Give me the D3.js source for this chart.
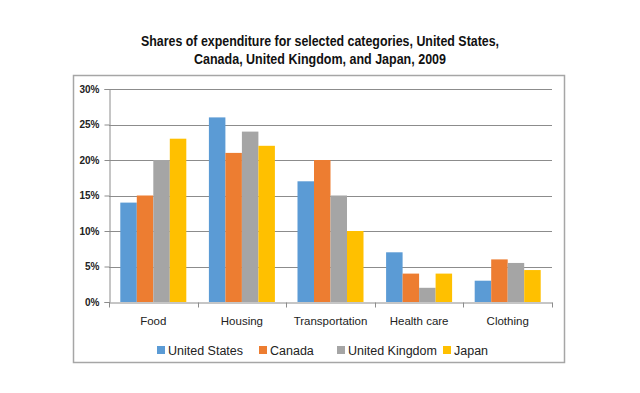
<!DOCTYPE html>
<html><head><meta charset="utf-8">
<script src="https://cdn.jsdelivr.net/npm/d3@7"></script>
<style>body{margin:0;background:#fff}svg{display:block}</style>
</head><body>
<svg id="c" width="640" height="393"></svg>
<script>
const categories = ["Food","Housing","Transportation","Health care","Clothing"];
const seriesNames = ["United States","Canada","United Kingdom","Japan"];
const usValues = [14,26,17,7,3];
const canadaValues = [15,21,20,4,6];
const ukValues = [20,24,15,2,5.5];
const japanValues = [23,22,10,4,4.5];
const yTicks = [0,5,10,15,20,25,30];
const colors = ["#5B9BD5","#ED7D31","#A5A5A5","#FFC000"];
const allSeries = [usValues, canadaValues, ukValues, japanValues];

const svg = d3.select("#c");
const m = {l:109, r:552, t:89, b:302};

svg.append("rect").attr("x",73.5).attr("y",75.5).attr("width",491).attr("height",287)
  .attr("fill","#fff").attr("stroke","#a6a6a6").attr("stroke-width",1.5);

const titleFont = "Liberation Sans, Arial";
svg.append("text").attr("x",320).attr("y",46).attr("text-anchor","middle")
  .attr("font-family",titleFont).attr("font-weight","bold")
  .attr("font-size",15).attr("fill","#111")
  .attr("textLength",358).attr("lengthAdjust","spacingAndGlyphs")
  .text("Shares of expenditure for selected categories, United States,");
svg.append("text").attr("x",320).attr("y",64).attr("text-anchor","middle")
  .attr("font-family",titleFont).attr("font-weight","bold")
  .attr("font-size",15).attr("fill","#111")
  .attr("textLength",252).attr("lengthAdjust","spacingAndGlyphs")
  .text("Canada, United Kingdom, and Japan, 2009");

const x = d3.scaleBand().domain(categories).range([m.l, m.r]).paddingInner(0.255).paddingOuter(0.1275);
const x1 = d3.scaleBand().domain(seriesNames).range([0, x.bandwidth()]);
const y = d3.scaleLinear().domain([0,30]).range([m.b, m.t]);

// gridlines
svg.append("g").selectAll("line").data(yTicks.filter(d=>d>0)).join("line")
  .attr("x1",m.l).attr("x2",m.r).attr("y1",d=>Math.round(y(d))+0.5).attr("y2",d=>Math.round(y(d))+0.5)
  .attr("stroke","#8c8c8c").attr("stroke-width",1);

// bars
seriesNames.forEach((s,i)=>{
  svg.append("g").selectAll("rect").data(categories).join("rect")
    .attr("x",c=>x(c)+x1(s)).attr("width",x1.bandwidth())
    .attr("y",(c,j)=>y(allSeries[i][j])).attr("height",(c,j)=>y(0)-y(allSeries[i][j]))
    .attr("fill",colors[i]);
});

// y axis
const ya = svg.append("g").attr("transform",`translate(${m.l+0.5},0)`)
  .call(d3.axisLeft(y).tickValues(yTicks).tickFormat(d=>d+"%").tickSize(5).tickPadding(5));
ya.select(".domain").attr("stroke","#8c8c8c");
ya.selectAll(".tick line").attr("stroke","#8c8c8c");
ya.selectAll("text").attr("font-family","Liberation Sans, Arial").attr("font-weight","bold")
  .attr("font-size",10).attr("fill","#222");

// x axis
const xa = svg.append("g").attr("transform",`translate(0,${Math.round(y(0))+0.5})`)
  .call(d3.axisBottom(x).tickSize(0).tickPadding(14));
xa.select(".domain").attr("stroke","#8c8c8c");
xa.selectAll("text").attr("font-family","Liberation Sans, Arial").attr("font-size",11.5).attr("fill","#222");
const bounds = d3.range(categories.length+1).map(i=>m.l + i*(m.r-m.l)/categories.length);
xa.selectAll("line.sep").data(bounds).join("line").attr("class","sep")
  .attr("x1",d=>Math.round(d)+0.5).attr("x2",d=>Math.round(d)+0.5).attr("y1",0).attr("y2",5)
  .attr("stroke","#8c8c8c");

// legend
const legX = [157,259,337,443];
const lg = svg.append("g");
seriesNames.forEach((s,i)=>{
  lg.append("rect").attr("x",legX[i]).attr("y",346).attr("width",8).attr("height",8).attr("fill",colors[i]);
  lg.append("text").attr("x",legX[i]+11).attr("y",354.5).attr("font-family","Liberation Sans, Arial")
    .attr("font-size",12.5).attr("fill","#222").text(s);
});
</script>
</body></html>
